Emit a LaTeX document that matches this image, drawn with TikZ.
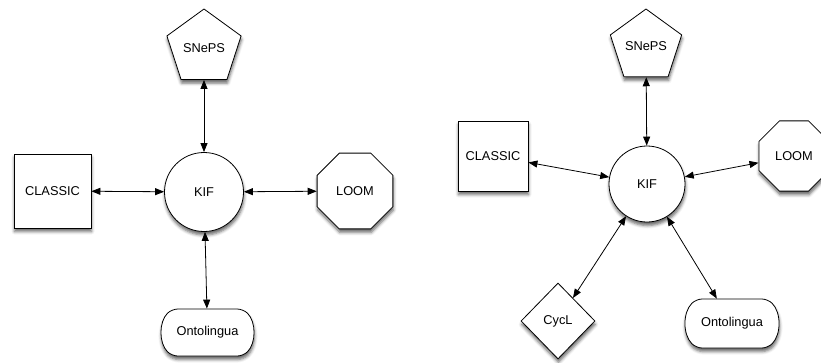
\documentclass[tikz,border=0pt]{standalone}
\usepackage{fontspec}
\setmainfont{Liberation Sans}
\usetikzlibrary{shapes.geometric,shapes.misc,arrows.meta,shadows.blur}

\begin{document}
\begin{tikzpicture}[x=1pt,y=-1pt,
  base/.style={draw, fill=white, line width=0.8pt, inner sep=0pt,
    font=\fontsize{12.8}{14}\selectfont,
    blur shadow={shadow xshift=0.5pt, shadow yshift=-3.5pt,
      shadow blur radius=3pt, shadow opacity=60}},
  penta/.style={base, regular polygon, regular polygon sides=5},
  octa/.style={base, regular polygon, regular polygon sides=8},
  boxnode/.style={base, rectangle},
  hub/.style={base, circle},
  gem/.style={base, diamond},
  pill/.style={base, rounded rectangle, rounded rectangle arc length=90,
    rounded corners=6pt},
  link/.style={{Triangle[length=9pt,width=7pt]}-{Triangle[length=9pt,width=7pt]},
    line width=0.8pt, sharp corners}]
\useasboundingbox (0,0) rectangle (821,362);
\clip (0,0) rectangle (821,362);

% first system: KIF with four neighbours
\node[penta, minimum size=78pt] (sA) at (204,48) {SNePS};
\node[hub, minimum size=79pt] (kA) at (204,192) {KIF};
\node[boxnode, minimum width=77pt, minimum height=74pt] (cA) at (52.5,191) {CLASSIC};
\node[octa, minimum size=82pt] (lA) at (355,191) {LOOM};
\node[pill, minimum width=91pt, minimum height=47pt] (oA) at (207.5,332.5) {Ontolingua};

\draw[link] (kA) -- (sA);
\draw[link] (kA) -- (cA);
\draw[link] (kA) -- (lA);
\draw[link] (kA) -- (oA);

% second system: KIF with five neighbours
\node[penta, minimum size=75pt] (sB) at (646,46.5) {SNePS};
\node[hub, minimum size=76pt] (kB) at (647,184) {KIF};
\node[boxnode, minimum width=70pt, minimum height=70pt] (cB) at (493,156) {CLASSIC};
\node[octa, minimum size=76pt] (lB) at (794,156) {LOOM};
\node[gem, minimum width=74pt, minimum height=76pt] (yB) at (558,321) {CycL};
\node[pill, minimum width=92pt, minimum height=49pt] (oB) at (732,323.5) {Ontolingua};

\draw[link] (kB) -- (sB);
\draw[link] (kB) -- (cB);
\draw[link] (kB) -- (lB);
\draw[link] (kB) -- (yB);
\draw[link] (kB) -- (oB);
\end{tikzpicture}
\end{document}
